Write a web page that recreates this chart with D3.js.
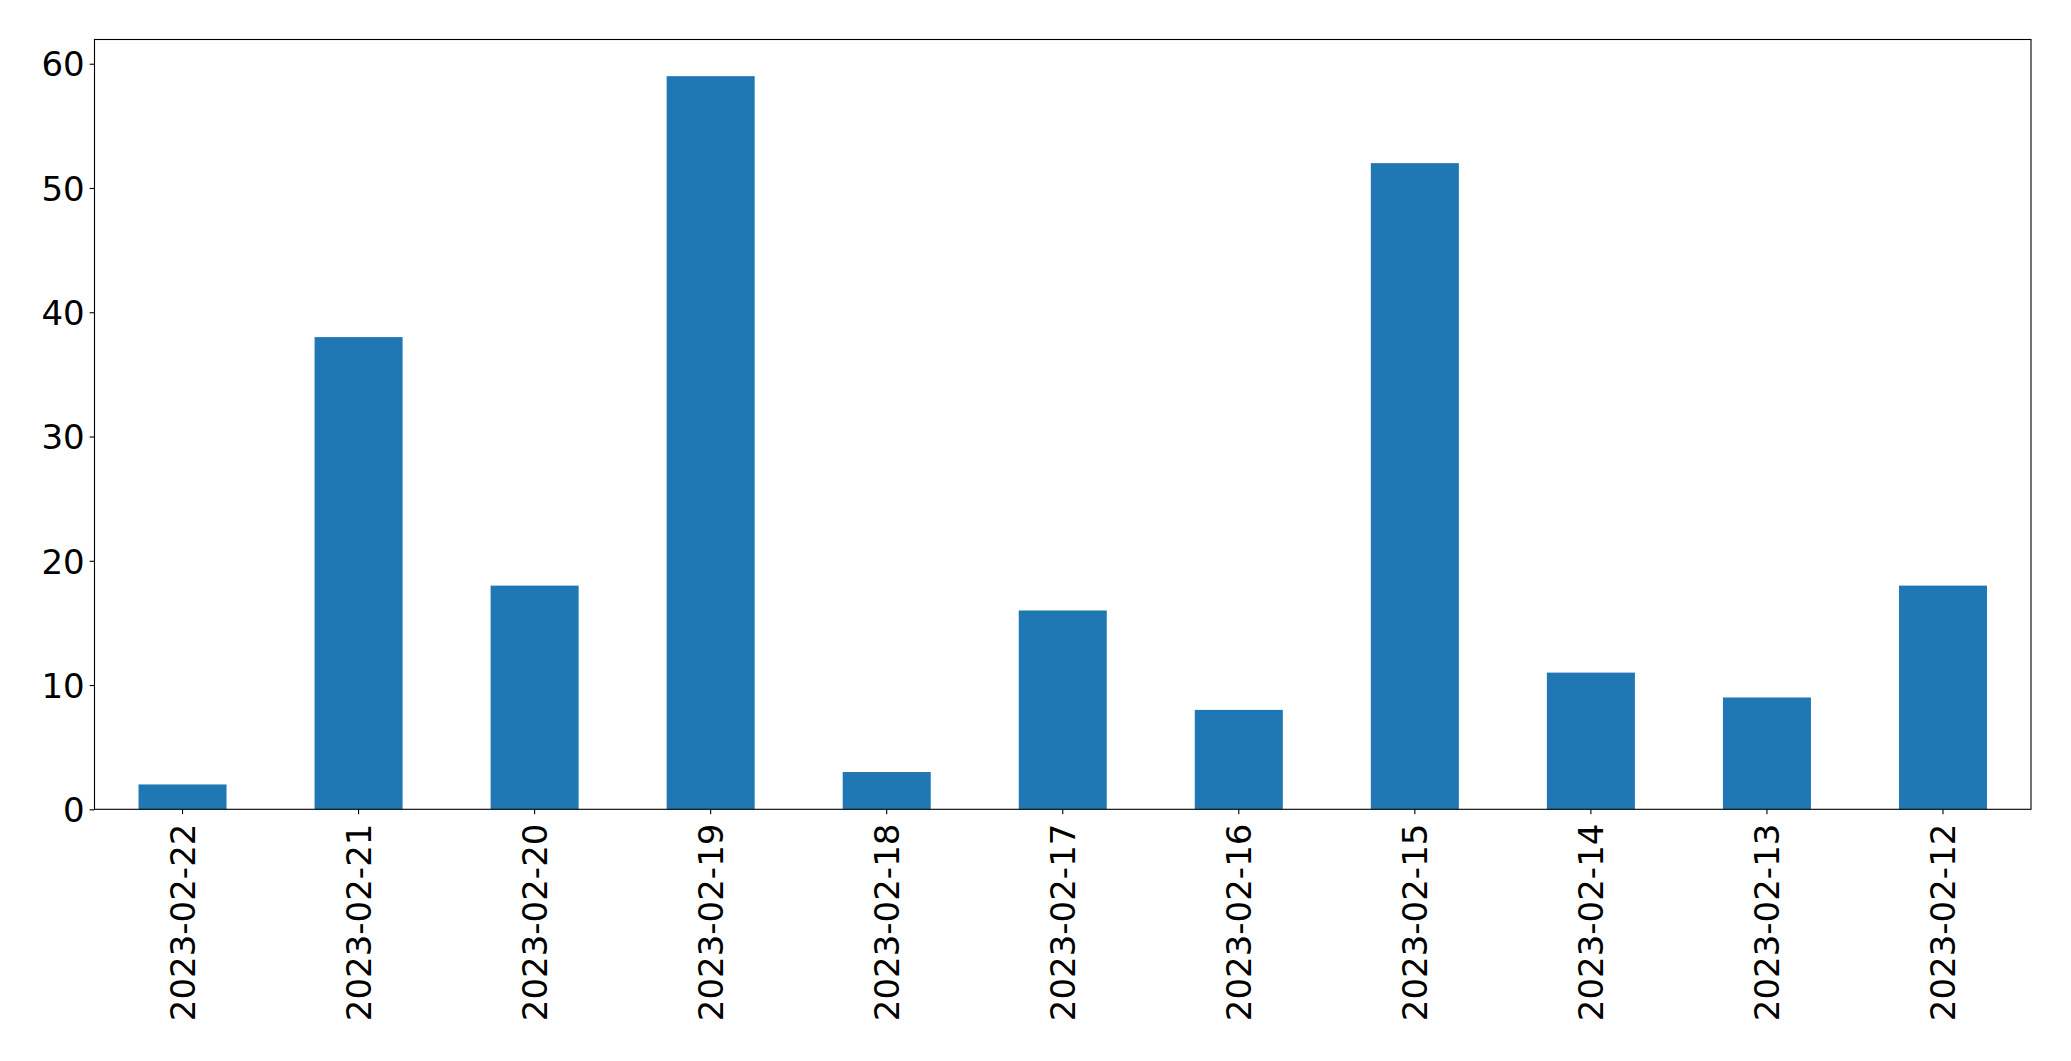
<!DOCTYPE html>
<html>
<head>
<meta charset="utf-8">
<script src="https://cdn.jsdelivr.net/npm/d3@7"></script>
<style>
  html, body { margin: 0; padding: 0; background: #fff; }
  svg { display: block; }
</style>
</head>
<body>
<svg id="chart" width="2071" height="1061"></svg>
<script>
const categories = ["2023-02-22","2023-02-21","2023-02-20","2023-02-19","2023-02-18","2023-02-17","2023-02-16","2023-02-15","2023-02-14","2023-02-13","2023-02-12"];
const values = [2, 38, 18, 59, 3, 16, 8, 52, 11, 9, 18];
const yTicks = [0, 10, 20, 30, 40, 50, 60];

const W = 2071, H = 1061;
const margin = {left: 94.5, right: W - 2031, top: 39.5, bottom: H - 809.3};
const iw = W - margin.left - margin.right;
const ih = H - margin.top - margin.bottom;
const fontFamily = "'DejaVu Sans', sans-serif";
const fontSize = 34;
const tickLen = 4.9, tickPad = 4.9;

const svg = d3.select("#chart");
const g = svg.append("g").attr("transform", `translate(${margin.left},${margin.top})`);

const x = d3.scaleBand().domain(categories).range([0, iw]).paddingInner(0.5).paddingOuter(0.25);
const yMax = d3.max(values) * 1.05;
const y = d3.scaleLinear().domain([0, yMax]).range([ih, 0]);

g.selectAll("rect.bar").data(values).join("rect")
  .attr("class", "bar")
  .attr("x", (d, i) => x(categories[i]))
  .attr("width", x.bandwidth())
  .attr("y", d => y(d))
  .attr("height", d => y(0) - y(d))
  .attr("fill", "#1f77b4");

// Y axis
const yAxis = d3.axisLeft(y).tickValues(yTicks).tickSize(tickLen).tickPadding(tickPad).tickFormat(d3.format("d"));
const ya = g.append("g").call(yAxis);
ya.select(".domain").remove();
ya.selectAll("line").attr("stroke", "#000").attr("stroke-width", 1.1);
ya.selectAll("text").attr("font-family", fontFamily).attr("font-size", fontSize).attr("fill", "#000").attr("dy", "0.36em");

// X axis
const xAxis = d3.axisBottom(x).tickSize(tickLen).tickPadding(0);
const xa = g.append("g").attr("transform", `translate(0,${ih})`).call(xAxis);
xa.select(".domain").remove();
xa.selectAll("line").attr("stroke", "#000").attr("stroke-width", 1.1);
xa.selectAll("text")
  .attr("font-family", fontFamily).attr("font-size", fontSize).attr("fill", "#000")
  .attr("text-anchor", "end")
  .attr("x", 0).attr("y", 0)
  .attr("dy", "0.36em")
  .attr("transform", `translate(0,${tickLen + tickPad + 4.5}) rotate(-90)`);

// Frame
g.append("rect").attr("x", 0).attr("y", 0).attr("width", iw).attr("height", ih)
  .attr("fill", "none").attr("stroke", "#000").attr("stroke-width", 1.1);
</script>
</body>
</html>
